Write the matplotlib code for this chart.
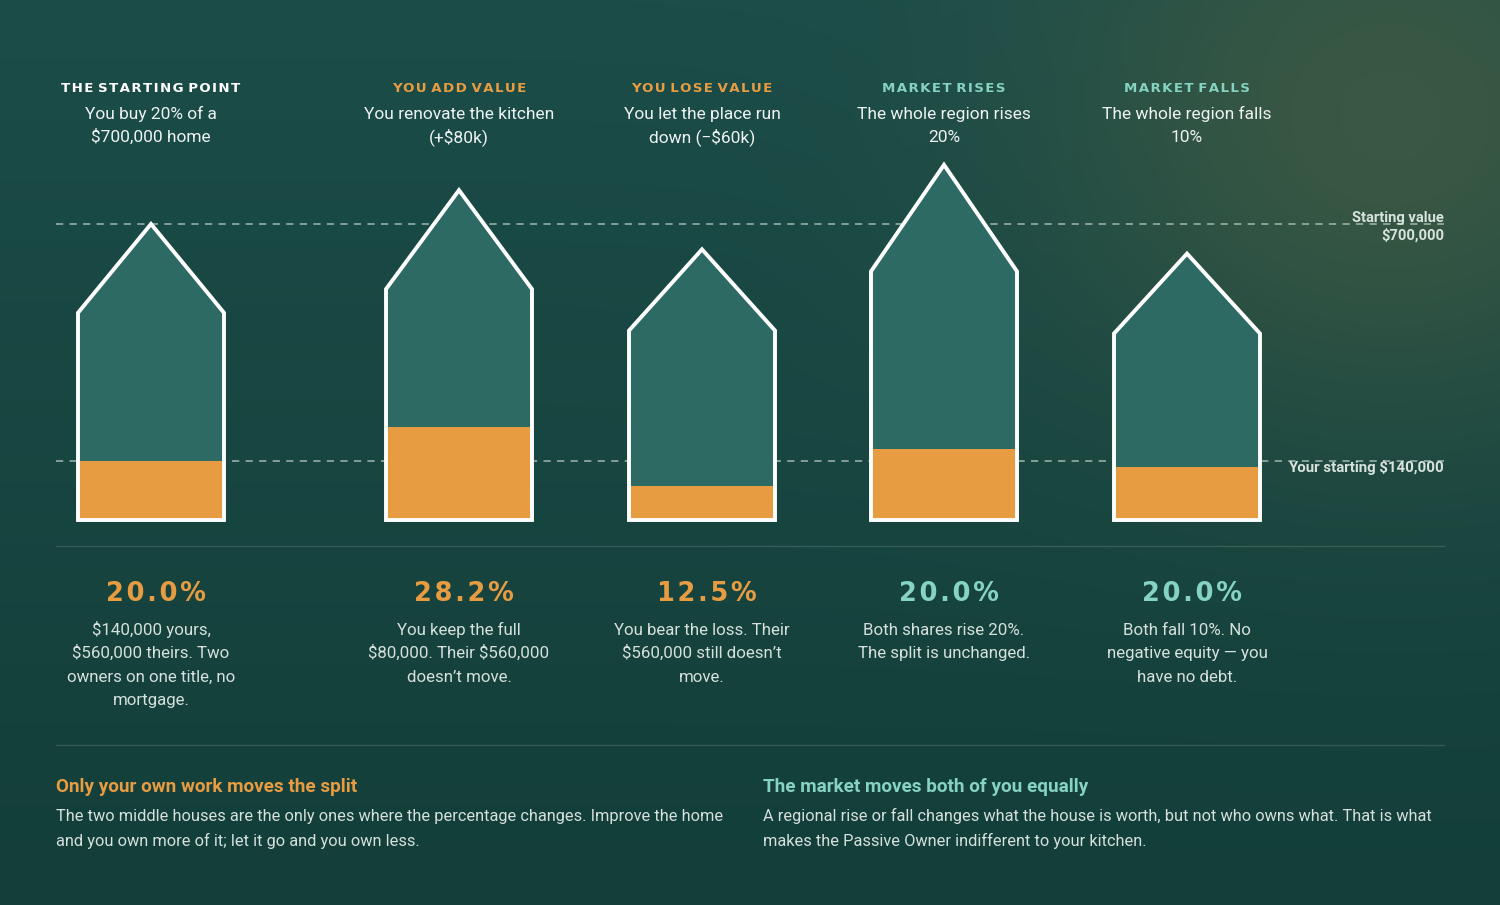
import numpy as np
import matplotlib
matplotlib.use("Agg")
import matplotlib.pyplot as plt
from matplotlib.patches import Polygon, Rectangle

plt.rcParams['text.parse_math'] = False

# ---------------- data ----------------
headings = ["THE STARTING POINT", "YOU ADD VALUE", "YOU LOSE VALUE", "MARKET RISES", "MARKET FALLS"]
subtitles = ["You buy 20% of a\n$700,000 home",
             "You renovate the kitchen\n(+$80k)",
             "You let the place run\ndown (\u2212$60k)",
             "The whole region rises\n20%",
             "The whole region falls\n10%"]
home_values = [700000, 780000, 640000, 840000, 630000]
your_shares = [140000, 220000, 80000, 168000, 126000]
descriptions = ["$140,000 yours,\n$560,000 theirs. Two\nowners on one title, no\nmortgage.",
                "You keep the full\n$80,000. Their $560,000\ndoesn\u2019t move.",
                "You bear the loss. Their\n$560,000 still doesn\u2019t\nmove.",
                "Both shares rise 20%.\nThe split is unchanged.",
                "Both fall 10%. No\nnegative equity \u2014 you\nhave no debt."]
kinds = ["start", "own", "own", "market", "market"]
starting_value = 700000
starting_share = 140000
notes_titles = ["Only your own work moves the split", "The market moves both of you equally"]
notes_bodies = ["The two middle houses are the only ones where the percentage changes. Improve the home\nand you own more of it; let it go and you own less.",
                "A regional rise or fall changes what the house is worth, but not who owns what. That is what\nmakes the Passive Owner indifferent to your kitchen."]

# ---------------- style ----------------
ORANGE = "#e89c42"
TEAL = "#86d3c2"
HOUSE = "#2e6a64"
TEXT = "#eef3f1"
SOFT = "#d6e0dc"
FONT = ["Roboto", "DejaVu Sans"]
kind_color = {"start": "white", "own": ORANGE, "market": TEAL}
centers = [151, 459, 702, 944, 1187]
base_y = 520
px_per_dollar = 296 / 700000
half_w = 73
wall_frac = 0.70

def spaced(s):
    # fake letter spacing with hair spaces
    return "\u200a".join(s).replace("\u200a \u200a", " ")

def lines(ax, x, y0, text, step, fontsize, **kw):
    # draw a multi-line block with an even line pitch, y0 = middle of first line's caps
    off = 0.49 * fontsize
    for k, ln in enumerate(text.split("\n")):
        ax.text(x, y0 + k * step + off, ln, va="baseline", fontsize=fontsize, zorder=5, **kw)

W, H = 1500, 905
fig = plt.figure(figsize=(15, 9.05), dpi=100)
ax = fig.add_axes([0, 0, 1, 1])
ax.set_xlim(0, W)
ax.set_ylim(H, 0)
ax.axis("off")

# background: vertical gradient plus warm glow top right
yy, xx = np.mgrid[0:H, 0:W]
top = np.array([0x1c, 0x4d, 0x49]) / 255
bot = np.array([0x13, 0x3e, 0x39]) / 255
t = (yy / H)[..., None]
bg = top * (1 - t) + bot * t
d = np.hypot(xx - 1390, (yy - 120) * 1.1)
w = (np.exp(-(d / 330) ** 2) * 0.75)[..., None]
glow = np.array([0x44, 0x5c, 0x42]) / 255
bg = bg * (1 - w) + glow * w
ax.imshow(bg, extent=[0, W, H, 0], zorder=0, interpolation="bilinear")

# reference lines
for val in [starting_value, starting_share]:
    y = base_y - val * px_per_dollar
    ax.plot([56, 1444], [y, y], color="#a9bdb7", lw=1.3, ls=(0, (4, 3.5)), alpha=0.8, zorder=1)
lines(ax, 1444, base_y - starting_value * px_per_dollar - 7, "Starting value\n$700,000", 17, 10.6,
      ha="right", fontweight="bold", color="#d8e2de", family=FONT)
lines(ax, 1444, base_y - starting_share * px_per_dollar + 6, "Your starting $140,000", 17, 10.8,
      ha="right", fontweight="bold", color="#d8e2de", family=FONT)

# houses
for i, cx in enumerate(centers):
    h = home_values[i] * px_per_dollar
    wall_top = base_y - h * wall_frac
    peak = base_y - h
    pts = [(cx - half_w, base_y), (cx - half_w, wall_top), (cx, peak), (cx + half_w, wall_top), (cx + half_w, base_y)]
    ax.add_patch(Polygon(pts, closed=True, facecolor=HOUSE, edgecolor="none", zorder=2))
    sh = your_shares[i] * px_per_dollar
    ax.add_patch(Rectangle((cx - half_w, base_y - sh), 2 * half_w, sh, facecolor=ORANGE, edgecolor="none", zorder=3))
    ax.add_patch(Polygon(pts, closed=True, facecolor="none", edgecolor="white", lw=2.8, joinstyle="miter", zorder=4))

    col = kind_color[kinds[i]]
    ax.text(cx, 89, spaced(headings[i]), ha="center", va="center", fontsize=9.6, fontweight="bold",
            color=col, family="DejaVu Sans", zorder=5)
    lines(ax, cx, 113, subtitles[i], 23, 12.5, ha="center", color=TEXT, family=FONT)

    pct = your_shares[i] / home_values[i] * 100
    ax.text(cx + 5, 594, spaced(f"{pct:.1f}%"), ha="center", va="center", fontsize=18.5, fontweight="bold",
            color=ORANGE if kinds[i] != "market" else TEAL, family="DejaVu Sans", zorder=5)
    lines(ax, cx, 629, descriptions[i], 23.3, 12.2, ha="center", color=SOFT, family=FONT)

# separators
for y in [546, 745]:
    ax.plot([56, 1444], [y, y], color="white", alpha=0.13, lw=1, zorder=1)

# bottom notes
for x, title, body, col in zip([56, 763], notes_titles, notes_bodies, [ORANGE, TEAL]):
    lines(ax, x, 785, title, 25, 13.6, ha="left", fontweight="bold", color=col, family=FONT)
    lines(ax, x, 815, body, 25, 11.8, ha="left", color=SOFT, family=FONT)

fig.savefig("out.png", dpi=100)
